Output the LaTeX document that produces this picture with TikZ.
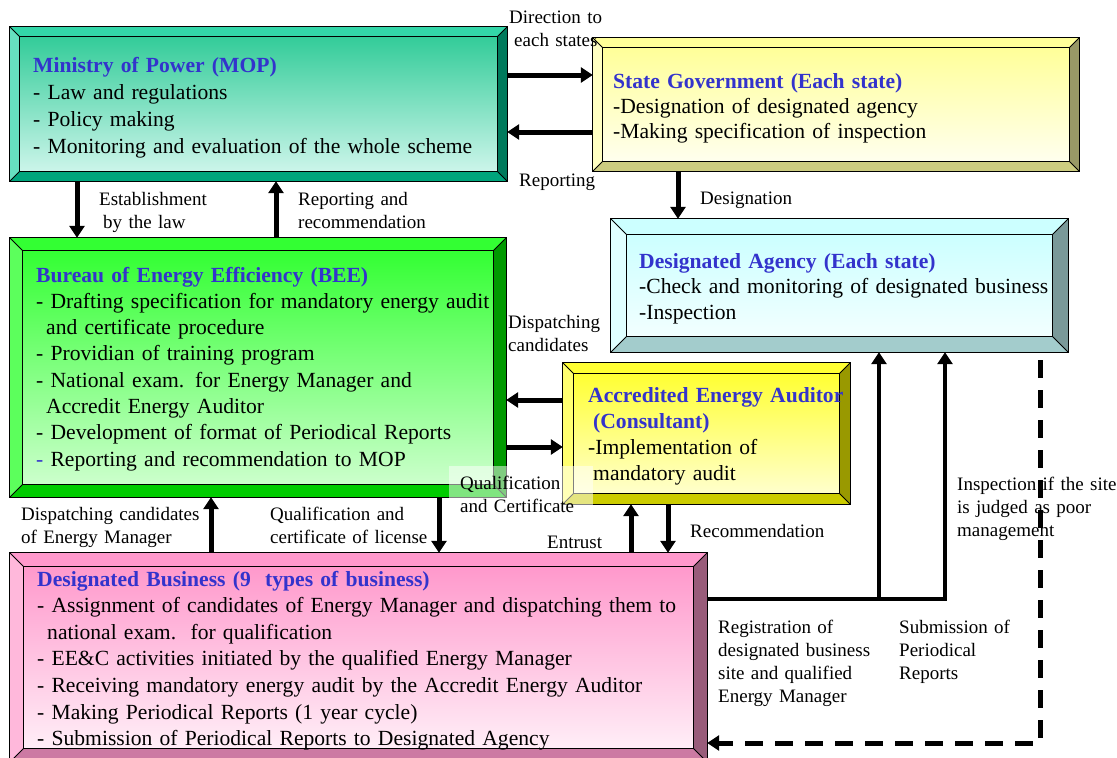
\documentclass[tikz,border=0pt]{standalone}
\usepackage{fontspec}
\setmainfont{Liberation Serif}
\usetikzlibrary{arrows.meta,fit}
\definecolor{ttlblue}{HTML}{3333CC}
% MOP
\definecolor{mopT}{HTML}{33D6A8}\definecolor{mopL}{HTML}{66E0C0}\definecolor{mopR}{HTML}{007A5C}
\definecolor{mopB}{HTML}{00A57C}\definecolor{mopA}{HTML}{33CC99}\definecolor{mopZ}{HTML}{CCF5EA}
% State
\definecolor{stT}{HTML}{FFFF99}\definecolor{stL}{HTML}{FFFFC2}\definecolor{stR}{HTML}{999966}
\definecolor{stB}{HTML}{CCCC80}\definecolor{stA}{HTML}{FFFF99}\definecolor{stZ}{HTML}{FFFFEE}
% Agency
\definecolor{agT}{HTML}{CCFFFF}\definecolor{agL}{HTML}{E0FFFF}\definecolor{agR}{HTML}{7A9999}
\definecolor{agB}{HTML}{A3CCCC}\definecolor{agA}{HTML}{CCFFFF}\definecolor{agZ}{HTML}{F2FFFF}
% BEE
\definecolor{beT}{HTML}{33FF33}\definecolor{beL}{HTML}{5CFF5C}\definecolor{beR}{HTML}{009900}
\definecolor{beB}{HTML}{00CC00}\definecolor{beA}{HTML}{33FF33}\definecolor{beZ}{HTML}{CCFFCC}
% Auditor
\definecolor{auT}{HTML}{FFFF33}\definecolor{auL}{HTML}{FFFF70}\definecolor{auR}{HTML}{999900}
\definecolor{auB}{HTML}{CCCC00}\definecolor{auA}{HTML}{FFFF33}\definecolor{auZ}{HTML}{FFFFCC}
% Business
\definecolor{buT}{HTML}{FF99CC}\definecolor{buL}{HTML}{FFB8DB}\definecolor{buR}{HTML}{995C7A}
\definecolor{buB}{HTML}{CC7AA3}\definecolor{buA}{HTML}{FF99CC}\definecolor{buZ}{HTML}{FFEEF7}

\newcommand\ttl{\bfseries\color{ttlblue}}
% name, x1, y1, x2, y2, bevel, colour prefix
\newcommand\bevbox[7]{%
  \path (#2,#3) coordinate (#1-nw) (#4,#5) coordinate (#1-se);
  \node[fit=(#1-nw)(#1-se), inner sep=0pt] (#1) {};
  \coordinate (#1-inw) at ([shift={(#6pt,-#6pt)}]#1.north west);
  \coordinate (#1-ine) at ([shift={(-#6pt,-#6pt)}]#1.north east);
  \coordinate (#1-ise) at ([shift={(-#6pt,#6pt)}]#1.south east);
  \coordinate (#1-isw) at ([shift={(#6pt,#6pt)}]#1.south west);
  \fill[#7T] (#1.north west) -- (#1.north east) -- (#1-ine) -- (#1-inw) -- cycle;
  \fill[#7L] (#1.north west) -- (#1.south west) -- (#1-isw) -- (#1-inw) -- cycle;
  \fill[#7R] (#1.north east) -- (#1.south east) -- (#1-ise) -- (#1-ine) -- cycle;
  \fill[#7B] (#1.south west) -- (#1.south east) -- (#1-ise) -- (#1-isw) -- cycle;
  \shade[top color=#7A, bottom color=#7Z] (#1-inw) rectangle (#1-ise);
  \draw[outl] (#1.north west) rectangle (#1.south east);
  \draw[outl] (#1-inw) rectangle (#1-ise);
  \draw[outl] (#1.north west) -- (#1-inw) (#1.north east) -- (#1-ine)
              (#1.south east) -- (#1-ise) (#1.south west) -- (#1-isw);
}

\begin{document}
\begin{tikzpicture}[x=1pt,y=-1pt,
  outl/.style={black, line width=1pt},
  boxtext/.style={anchor=base west, inner sep=0pt, text width=700pt, align=left},
  lbl/.style={anchor=base west, inner sep=0pt, text width=300pt, align=left,
              font=\fontsize{19}{23}\selectfont},
  arr/.style={line width=5pt, -{Triangle[width=15pt,length=12pt]}},
  dsh/.style={line width=5pt, dash pattern=on 18pt off 12pt, dash phase=-8pt},
  dtip/.style={line width=5pt, -{Triangle[width=15pt,length=12pt]}}]
\useasboundingbox (0,0) rectangle (1117,758);
\fill[white] (0,0) rectangle (1117,758);

% ---------- boxes ----------
\bevbox{mop}{10}{27}{507}{181}{10}{mop}
\bevbox{st}{593}{38}{1079}{171}{10}{st}
\bevbox{ag}{611}{219}{1068}{352}{16}{ag}
\bevbox{bee}{10}{238}{506}{497}{13}{be}
\bevbox{aud}{563}{363}{850}{504}{11}{au}
\bevbox{bus}{10}{553}{707}{762}{14}{bu}

% ---------- box texts ----------
\node[boxtext, font=\fontsize{21.6}{27}\selectfont] (tmop) at (33,72)
  {{\ttl Ministry of Power (MOP)}\\
   - Law and regulations\\
   - Policy making\\
   - Monitoring and evaluation of the whole scheme};
\node[boxtext, font=\fontsize{21.6}{25}\selectfont] (tst) at (613,88)
  {{\ttl State Government (Each state)}\\
   -Designation of designated agency\\
   -Making specification of inspection};
\node[boxtext, font=\fontsize{21.6}{25.5}\selectfont] (tag) at (639,268)
  {{\ttl Designated Agency (Each state)}\\
   -Check and monitoring of designated business\\
   -Inspection};
\node[boxtext, font=\fontsize{21.6}{26.3}\selectfont] (tbee) at (36,282)
  {{\ttl Bureau of Energy Efficiency (BEE)}\\
   - Drafting specification for mandatory energy audit\\
   \hspace*{10pt}and certificate procedure\\
   - Providian of training program\\
   - National exam. for Energy Manager and\\
   \hspace*{10pt}Accredit Energy Auditor\\
   - Development of format of Periodical Reports\\
   {\color{ttlblue}-} Reporting and recommendation to MOP};
\node[boxtext, font=\fontsize{21.6}{26}\selectfont] (taud) at (588,402)
  {{\ttl Accredited Energy Auditor}\\
   {\ttl\hspace*{5pt}(Consultant)}\\
   -Implementation of\\
   \hspace*{5pt}mandatory audit};
\node[boxtext, font=\fontsize{21.6}{26.6}\selectfont] (tbus) at (37,586)
  {{\ttl Designated Business (9\ \ types of business)}\\
   - Assignment of candidates of Energy Manager and dispatching them to\\
   \hspace*{10pt}national exam.\ \ for qualification\\
   - EE\&C activities initiated by the qualified Energy Manager\\
   - Receiving mandatory energy audit by the Accredit Energy Auditor\\
   - Making Periodical Reports (1 year cycle)\\
   - Submission of Periodical Reports to Designated Agency};

% ---------- connector rows / columns ----------
\coordinate (r1) at (0,75);
\coordinate (r2) at (0,132);
\coordinate (c1) at (77,0);
\coordinate (c2) at (276,0);
\coordinate (c3) at (678,0);
\coordinate (r3) at (0,400);
\coordinate (r4) at (0,447);
\coordinate (c4) at (211,0);
\coordinate (c5) at (439,0);
\coordinate (c6) at (631,0);
\coordinate (c7) at (668,0);
\coordinate (j1) at (879,599);
\coordinate (j2) at (945,599);
\coordinate (d1) at (1040,743);

\draw[arr] (r1 -| mop.east) -- (r1 -| st.west);
\draw[arr] (r2 -| st.west) -- (r2 -| mop.east);
\draw[arr] (c3 |- st.south) -- (c3 |- ag.north);
\draw[arr] (c1 |- mop.south) -- (c1 |- bee.north);
\draw[arr] (c2 |- bee.north) -- (c2 |- mop.south);
\draw[arr] (r3 -| aud.west) -- (r3 -| bee.east);
\draw[arr] (r4 -| bee.east) -- (r4 -| aud.west);
\draw[arr] (c4 |- bus.north) -- (c4 |- bee.south);
\draw[arr] (c5 |- bee.south) -- (c5 |- bus.north);
\draw[arr] (c6 |- bus.north) -- (c6 |- aud.south);
\draw[arr] (c7 |- aud.south) -- (c7 |- bus.north);
\draw[arr, line width=4.5pt] (j1 -| bus.east) -- (j2) -- (j2 |- ag.south);
\draw[arr, line width=4.5pt] (j1) -- (j1 |- ag.south);

% ---------- labels ----------
\node[lbl] (ldir) at (509,23) {Direction to\\\hspace*{5pt}each states};
\node[lbl] (lrep) at (519,186) {Reporting};
\node[lbl] (ldes) at (700,204) {Designation};
\node[lbl] (lest) at (99,205) {Establishment\\\hspace*{4pt}by the law};
\node[lbl] (lrr) at (298,205) {Reporting and\\recommendation};
\node[lbl] (ldc) at (508,328) {Dispatching\\candidates};
\fill[white, opacity=0.5] (449,466) rectangle (593,505);
\node[lbl] (lqc) at (460,489) {Qualification\\and Certificate};
\node[lbl] (ldem) at (21,520) {Dispatching candidates\\of Energy Manager};
\node[lbl] (lqcl) at (270,520) {Qualification and\\certificate of license};
\node[lbl] (lent) at (547,548) {Entrust};
\node[lbl] (lrec) at (690,537) {Recommendation};
\node[lbl] (lreg) at (718,633) {Registration of\\designated business\\site and qualified\\Energy Manager};
\node[lbl] (lsub) at (899,633) {Submission of\\Periodical\\Reports};
\node[lbl] (lins) at (957,490) {Inspection if the site\\is judged as poor\\management};

% ---------- dashed inspection connector ----------
\draw[dsh] (d1 |- ag.south) -- (d1) -- ([xshift=14pt]d1 -| bus.east);
\draw[dtip] ([xshift=14pt]d1 -| bus.east) -- (d1 -| bus.east);
\end{tikzpicture}
\end{document}
